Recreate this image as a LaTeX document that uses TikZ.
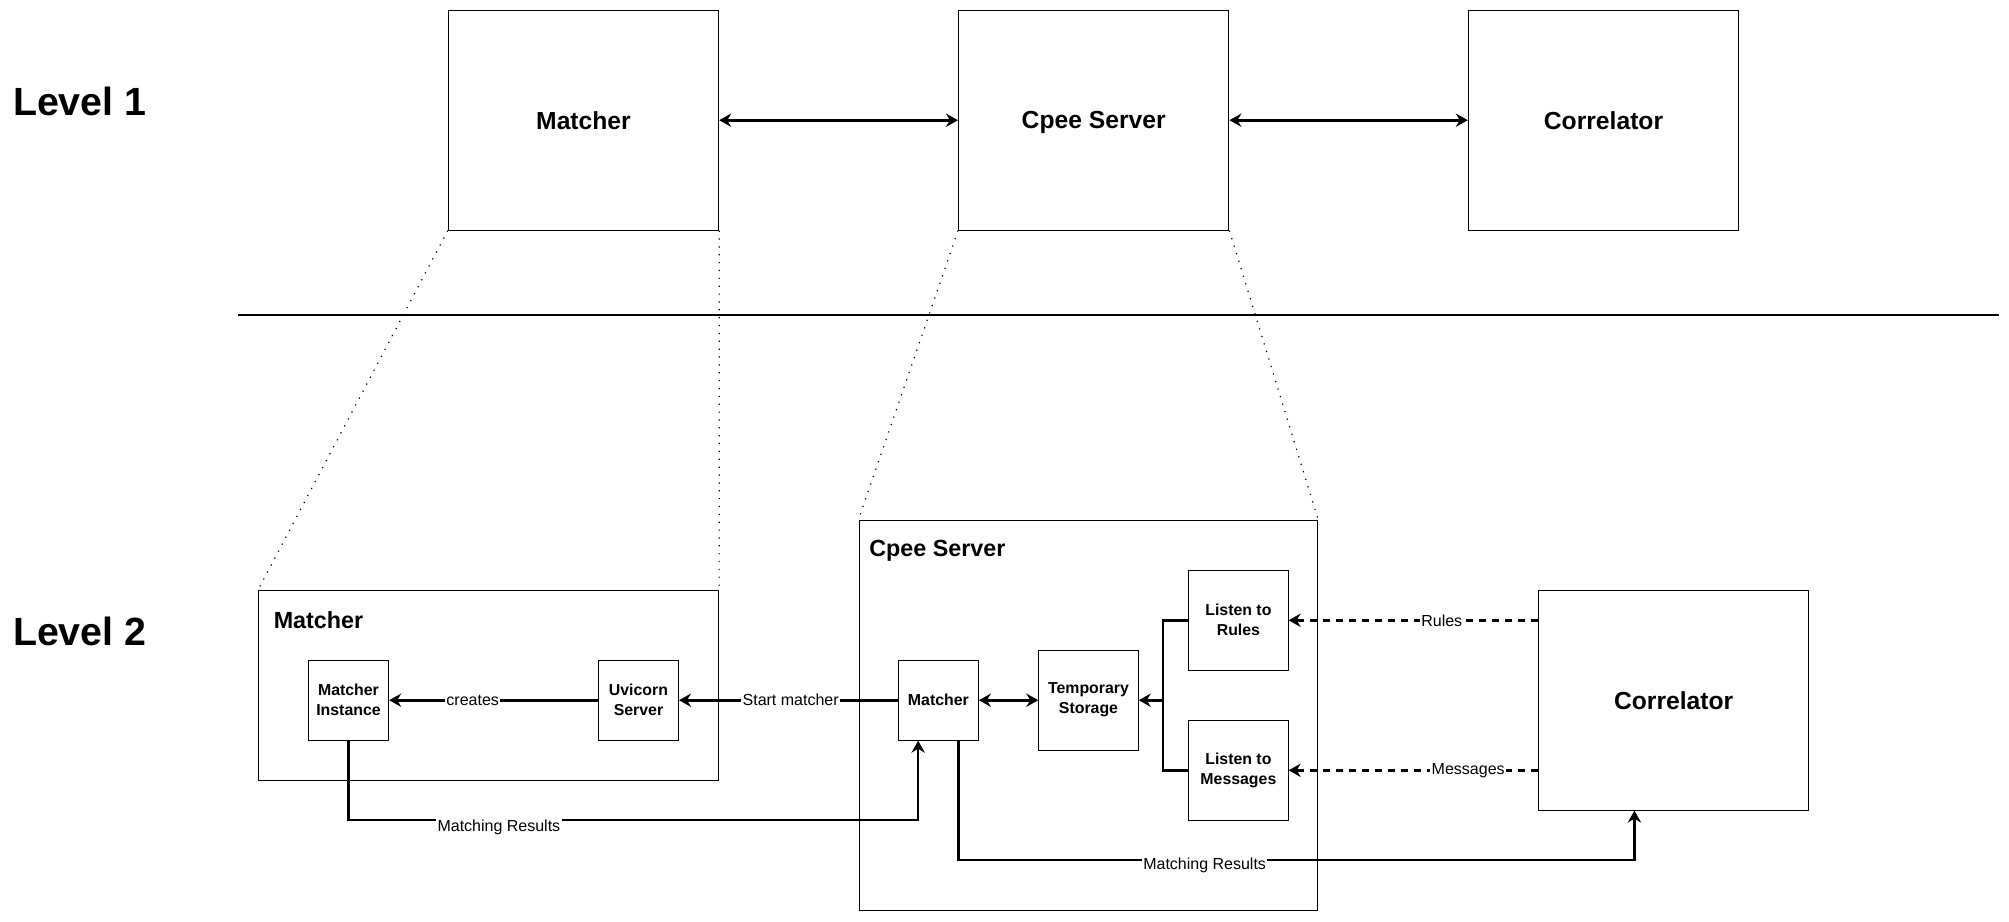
\documentclass[tikz,border=0pt]{standalone}
\usepackage{fontspec}
\setmainfont{Liberation Sans}
\usetikzlibrary{arrows.meta,calc}
\tikzset{
    bigbox/.style={draw, line width=0.75pt, minimum width=202.8pt, minimum height=164.8pt, text depth=0pt, font=\bfseries\fontsize{18.5}{22}\selectfont},
    smallbox/.style={draw, line width=0.75pt, minimum width=60pt, minimum height=60pt, align=center, font=\bfseries\fontsize{11.9}{15}\selectfont},
    midbox/.style={smallbox, minimum width=74.6pt, minimum height=75pt},
    frame/.style={draw, line width=0.75pt, inner sep=0pt},
    title/.style={anchor=base west, inner sep=0pt, font=\bfseries\fontsize{17.5}{21}\selectfont},
    level/.style={anchor=base west, inner sep=0pt, font=\bfseries\fontsize{29.5}{35}\selectfont},
    tip/.tip={Stealth[length=9pt,width=10pt,inset=3pt]},
    flow/.style={line width=2pt, -tip},
    both/.style={line width=2pt, tip-tip},
    dflow/.style={flow, dash pattern=on 5.25pt off 4.5pt},
    wire/.style={line width=2pt},
    zoomline/.style={line width=0.9pt, dash pattern=on 0.9pt off 5pt},
    lbl/.style={fill=white, inner sep=1pt, font=\fontsize{12}{14}\selectfont}
}
\begin{document}
\begin{tikzpicture}[x=0.75pt,y=-0.75pt]
            \useasboundingbox (0,0) rectangle (2009,921);
            %Level 1
            \node[level] (lv1) at (12.8,115) {Level 1};
            \node[bigbox] (m1) at (583.5,120.2) {Matcher};
            \node[bigbox] (c1) at (1093.7,120.2) {Cpee Server};
            \node[bigbox] (r1) at (1603.5,120.2) {Correlator};
            \draw[both] (m1) -- (c1);
            \draw[both] (c1) -- (r1);
            \draw[line width=1.5pt] (238,315) -- (1999,315);
            %Level 2
            \node[level] (lv2) at (12.8,645) {Level 2};
            \node[frame, minimum width=344.9pt, minimum height=142.5pt] (mbox) at (488.7,685) {};
            \node[title] (mtitle) at (273.5,628.3) {Matcher};
            \node[smallbox, minimum width=60.3pt] (inst) at (348.5,700.2) {Matcher\\Instance};
            \node[smallbox] (uv) at (638.5,700.2) {Uvicorn\\Server};
            \node[frame, minimum width=343.9pt, minimum height=292.5pt] (cbox) at (1088.3,715) {};
            \node[title] (ctitle) at (869,556.7) {Cpee Server};
            \node[smallbox] (mat) at (938.4,700.2) {Matcher};
            \node[midbox] (tmp) at (1088.5,700.2) {Temporary\\Storage};
            \node[midbox] (rules) at (1238.4,620.3) {Listen to\\Rules};
            \node[midbox] (msgs) at (1238.4,770.3) {Listen to\\Messages};
            \node[bigbox] (cor2) at (1673.7,700.2) {Correlator};
            %Zoom
            \draw[zoomline] (m1.south west) -- (mbox.north west);
            \draw[zoomline] (m1.south east) -- (mbox.north east);
            \draw[zoomline] (c1.south west) -- (cbox.north west);
            \draw[zoomline] (c1.south east) -- (cbox.north east);
            %Edges
            \draw[flow] (uv) -- node[lbl, pos=0.6]{creates} (inst);
            \draw[flow] (mat) -- node[lbl, pos=0.49]{Start matcher} (uv);
            \draw[both] (mat) -- (tmp);
            \coordinate (jn) at (1163,700.2);
            \draw[wire] (msgs.west) -| (jn);
            \draw[flow] (rules.west) -| (jn) -- (tmp.east);
            \draw[dflow] (cor2.west |- rules.east) -- node[lbl, pos=0.386]{Rules} (rules.east);
            \draw[dflow] (cor2.west |- msgs.east) -- node[lbl, pos=0.28]{Messages} (msgs.east);
            \coordinate (mr1) at ($(mat.south west)!0.25!(mat.south east)$);
            \coordinate (mr1b) at (mr1 |- 0,820);
            \draw[flow] (inst.south) |- node[lbl, pos=0.632, yshift=-5.5pt]{Matching Results} (mr1b) -- (mr1);
            \coordinate (mr2) at ($(mat.south west)!0.75!(mat.south east)$);
            \coordinate (mr2b) at (1634.4,860);
            \draw[flow] (mr2) |- node[lbl, pos=0.682, yshift=-4pt]{Matching Results} (mr2b) -- (mr2b |- cor2.south);
        \end{tikzpicture}
\end{document}
